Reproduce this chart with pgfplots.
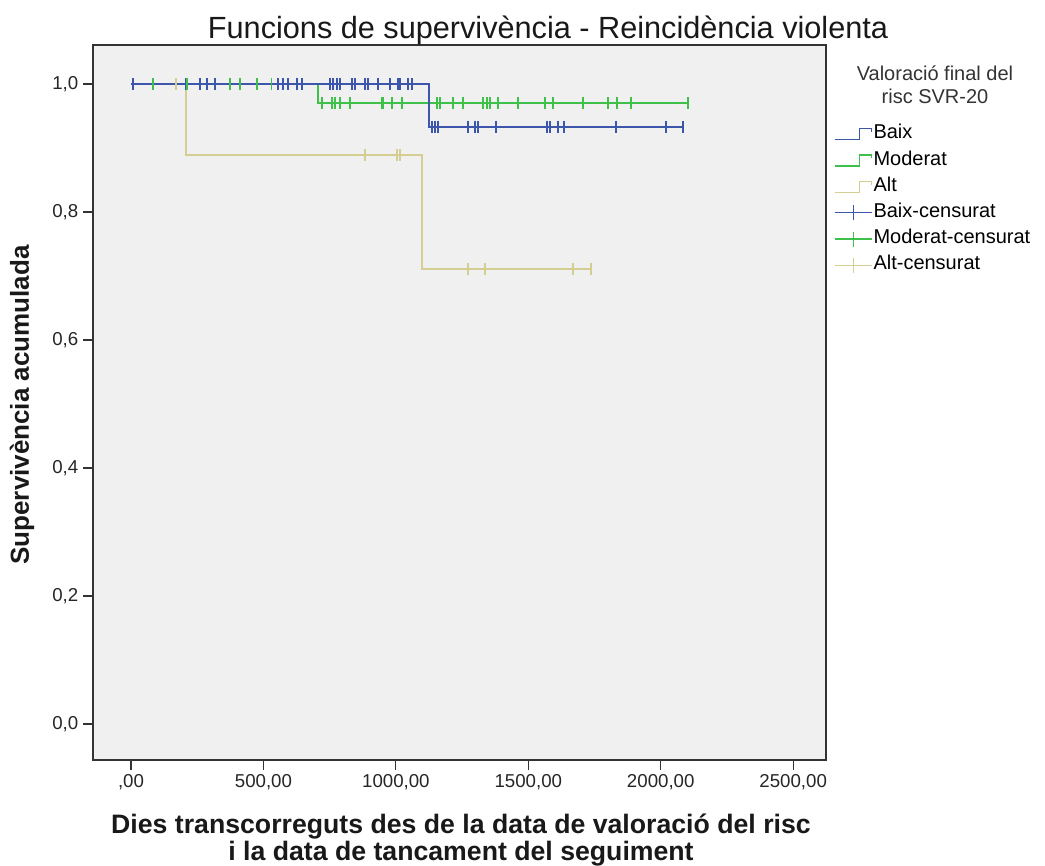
\documentclass[border=0pt]{standalone}
\usepackage{pgfplots}
\pgfplotsset{compat=1.18}
\usepackage{fontspec}
\setmainfont{Liberation Sans}
\definecolor{cblue}{RGB}{60,86,172}
\definecolor{cgreen}{RGB}{62,192,74}
\definecolor{ctan}{RGB}{212,206,146}
\definecolor{bg}{RGB}{240,240,240}
\pgfplotsset{
  steplegend/.style={legend image code/.code={\draw[##1, line width=0.9pt] (0pt,-4.1pt) -- (18.75pt,-4.1pt) -- (18.75pt,4.1pt) -- (27.75pt,4.1pt) -- (27.75pt,1.5pt);}},
  censlegend/.style={legend image code/.code={\draw[##1, line width=0.9pt] (0pt,0pt) -- (27.75pt,0pt); \draw[##1, line width=0.9pt] (14pt,-5.6pt) -- (14pt,5.6pt);}},
}
\begin{document}
\begin{tikzpicture}[x=0.75pt,y=0.75pt]
\path[use as bounding box, fill=white] (0pt,0pt) rectangle (783.75pt,649.5pt);
\begin{axis}[at={(69.75pt,79.5pt)}, anchor=south west, scale only axis,
  width=549.75pt, height=536.25pt,
  xmin=-143.5, xmax=2624, ymin=-0.05625, ymax=1.061,
  axis background/.style={fill=bg},
  axis line style={black!80, line width=0.8pt},
  tick align=outside, xtick pos=bottom, ytick pos=left,
  major tick length=7.5pt,
  tick style={black!80, line width=0.8pt},
  xtick={0,500,1000,1500,2000,2500},
  xticklabels={{,00},{500,00},{1000,00},{1500,00},{2000,00},{2500,00}},
  ytick={0,0.2,0.4,0.6,0.8,1},
  yticklabels={{0,0},{0,2},{0,4},{0,6},{0,8},{1,0}},
  tick label style={font=\fontsize{14}{16}\selectfont, text=black!85},
  legend cell align=left,
  legend style={at={(1.0105,0.8895)}, anchor=north west, draw=none, fill=none,
    inner sep=0pt, row sep=4.65pt,
    font=\fontsize{15}{16}\selectfont,
    nodes={inner sep=1pt, text height=10pt, text depth=3pt}},
]
% survival step lines
\addplot[forget plot, ctan, line width=1.5pt] coordinates {(0,1) (208,1) (208,0.8889) (1100,0.8889) (1100,0.7111) (1740,0.7111)};
\addplot[forget plot, cgreen, line width=1.5pt] coordinates {(0,1) (706,1) (706,0.9697) (2104,0.9697)};
\addplot[forget plot, cblue, line width=1.5pt] coordinates {(0,1) (1125,1) (1125,0.9333) (2085,0.9333)};
% censored marks
\addplot[forget plot, only marks, mark=|, mark size=4.5pt, mark options={cblue, line width=1.2pt}] coordinates {
(8,1) (205,1) (260,1) (287,1) (317,1) (374,1) (530,1) (555,1) (574,1) (593,1) (626,1) (645,1)
(751,1) (763,1) (778,1) (789,1) (835,1) (846,1) (884,1) (895,1) (933,1) (978,1) (1008,1) (1016,1) (1046,1) (1061,1)
(1137,0.9333) (1148,0.9333) (1159,0.9333) (1273,0.9333) (1299,0.9333) (1310,0.9333) (1378,0.9333)
(1571,0.9333) (1582,0.9333) (1612,0.9333) (1635,0.9333) (1832,0.9333) (2020,0.9333) (2085,0.9333)};
\addplot[forget plot, only marks, mark=|, mark size=4.5pt, mark options={cgreen, line width=1.2pt}] coordinates {
(83,1) (212,1) (374,1) (412,1) (475,1) (530,1)
(721,0.9697) (759,0.9697) (770,0.9697) (789,0.9697) (827,0.9697) (948,0.9697) (952,0.9697) (986,0.9697) (1023,0.9697)
(1156,0.9697) (1167,0.9697) (1216,0.9697) (1254,0.9697) (1329,0.9697) (1344,0.9697) (1356,0.9697) (1386,0.9697)
(1461,0.9697) (1563,0.9697) (1594,0.9697) (1707,0.9697) (1801,0.9697) (1835,0.9697) (1888,0.9697) (2104,0.9697)};
\addplot[forget plot, only marks, mark=|, mark size=4.5pt, mark options={ctan, line width=1.2pt}] coordinates {
(170,1) (884,0.8889) (1004,0.8889) (1015,0.8889)
(1273,0.7111) (1337,0.7111) (1669,0.7111) (1737,0.7111)};
% legend
\addlegendimage{steplegend, cblue}\addlegendentry{Baix}
\addlegendimage{steplegend, cgreen}\addlegendentry{Moderat}
\addlegendimage{steplegend, ctan}\addlegendentry{Alt}
\addlegendimage{censlegend, cblue}\addlegendentry{Baix-censurat}
\addlegendimage{censlegend, cgreen}\addlegendentry{Moderat-censurat}
\addlegendimage{censlegend, ctan}\addlegendentry{Alt-censurat}
\end{axis}
\node[align=center, font=\fontsize{15}{17.25}\selectfont, text=black!80] at (701.25pt,586.1pt) {Valoració final del\\risc SVR-20};
\node[font=\fontsize{23}{26}\selectfont, text=black!90] at (411pt,627pt) {Funcions de supervivència - Reincidència violenta};
\node[rotate=90, font=\bfseries\fontsize{19.5}{22}\selectfont, text=black!90] at (16.5pt,345.75pt) {Supervivència acumulada};
\node[align=center, font=\bfseries\fontsize{20}{16.5}\selectfont, text=black!90] at (345.75pt,19.5pt) {Dies transcorreguts des de la data de valoració del risc\\i la data de tancament del seguiment};
\end{tikzpicture}
\end{document}
